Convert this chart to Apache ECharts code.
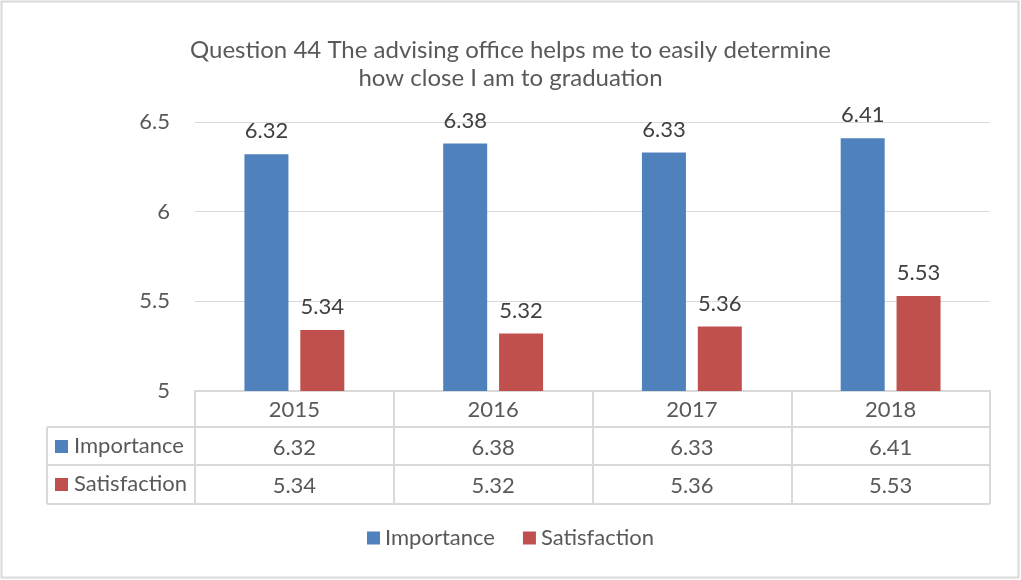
<!DOCTYPE html>
<html lang="en">
<head>
    <meta charset="UTF-8">
    <script src="https://cdn.jsdelivr.net/npm/echarts@6/dist/echarts.min.js"></script>
    <title>Question 44</title>
    <style>
        body { margin: 0; background: #fff; }
    </style>
</head>
<body>
<div id="main" style="width: 1021px;height:580px;"></div>
<script type="text/javascript">
    // 数据
    var years = ['2015', '2016', '2017', '2018'];
    var importance = [6.32, 6.38, 6.33, 6.41];
    var satisfaction = [5.34, 5.32, 5.36, 5.53];
    var yTicks = [5, 5.5, 6, 6.5];

    var blue = '#4F81BD';
    var red = '#C0504D';
    var gray = '#595959';
    var lineColor = '#d9d9d9';
    var font = 'Lato, "Open Sans", sans-serif';
    var fs = 22;

    var myChart = echarts.init(document.getElementById('main'));

    var option = {
        backgroundColor: '#fff',
        textStyle: { fontFamily: font },
        title: {
            text: 'Question 44 The advising office helps me to easily determine\nhow close I am to graduation',
            left: 'center',
            top: 31,
            textStyle: { fontSize: 24, fontWeight: 'normal', color: gray, lineHeight: 28, fontFamily: font }
        },
        legend: {
            bottom: 26,
            left: 'center',
            itemWidth: 13,
            itemHeight: 13,
            itemGap: 28,
            icon: 'rect',
            textStyle: { fontSize: fs, color: gray, fontFamily: font },
            data: ['Importance', 'Satisfaction']
        },
        grid: { left: 195, right: 31, top: 122, bottom: 189 },
        xAxis: {
            type: 'category',
            data: years,
            axisLine: { lineStyle: { color: lineColor, width: 2 } },
            axisTick: { show: true, length: 113, lineStyle: { color: lineColor, width: 2 } },
            axisLabel: {
                margin: 0,
                fontSize: fs,
                color: gray,
                lineHeight: 38,
                fontFamily: font,
                formatter: function (v, i) {
                    return v + '\n' + importance[i].toFixed(2) + '\n' + satisfaction[i].toFixed(2);
                }
            }
        },
        yAxis: {
            type: 'value',
            min: yTicks[0],
            max: yTicks[yTicks.length - 1],
            interval: 0.5,
            axisLine: { show: false },
            axisTick: { show: false },
            axisLabel: { fontSize: fs, color: gray, margin: 25, fontFamily: font },
            splitLine: { lineStyle: { color: lineColor, width: 1 } }
        },
        series: [
            {
                name: 'Importance',
                type: 'bar',
                data: importance,
                barWidth: 44,
                barGap: '27%',
                itemStyle: { color: blue },
                label: { show: true, position: 'top', distance: 12, fontSize: fs, color: '#404040', fontFamily: font,
                    formatter: function (p) { return p.value.toFixed(2); } }
            },
            {
                name: 'Satisfaction',
                type: 'bar',
                data: satisfaction,
                barWidth: 44,
                itemStyle: { color: red },
                label: { show: true, position: 'top', distance: 12, fontSize: fs, color: '#404040', fontFamily: font,
                    formatter: function (p) { return p.value.toFixed(2); } }
            }
        ]
    };

    myChart.setOption(option);

    // 数据表的表格线和左侧列
    var base = myChart.convertToPixel({ gridIndex: 0 }, [0, yTicks[0]]);
    var right = 990, tableLeft = 47;
    var yBase = base[1];
    var row1 = yBase + 36, row2 = yBase + 74, row3 = yBase + 113;
    var lineStyle = { stroke: lineColor, lineWidth: 2 };
    var g = [
        { type: 'rect', shape: { x: 1.5, y: 1.5, width: 1017, height: 576 }, style: { fill: null, stroke: lineColor, lineWidth: 2 }, silent: true },
        { type: 'line', shape: { x1: tableLeft, y1: row1, x2: right, y2: row1 }, style: lineStyle },
        { type: 'line', shape: { x1: tableLeft, y1: row2, x2: right, y2: row2 }, style: lineStyle },
        { type: 'line', shape: { x1: tableLeft, y1: row3, x2: right, y2: row3 }, style: lineStyle },
        { type: 'line', shape: { x1: tableLeft, y1: row1, x2: tableLeft, y2: row3 }, style: lineStyle }
    ];
    var names = ['Importance', 'Satisfaction'];
    var colors = [blue, red];
    var rowsTop = [row1, row2];
    for (var i = 0; i < names.length; i++) {
        var cy = rowsTop[i] + 19;
        g.push({ type: 'rect', shape: { x: 55, y: cy - 6, width: 13, height: 13 }, style: { fill: colors[i] } });
        g.push({ type: 'text', x: 74, y: cy, style: { text: names[i], fill: gray, font: fs + 'px ' + font, verticalAlign: 'middle' } });
    }
    myChart.setOption({ graphic: g });
</script>
</body>
</html>
